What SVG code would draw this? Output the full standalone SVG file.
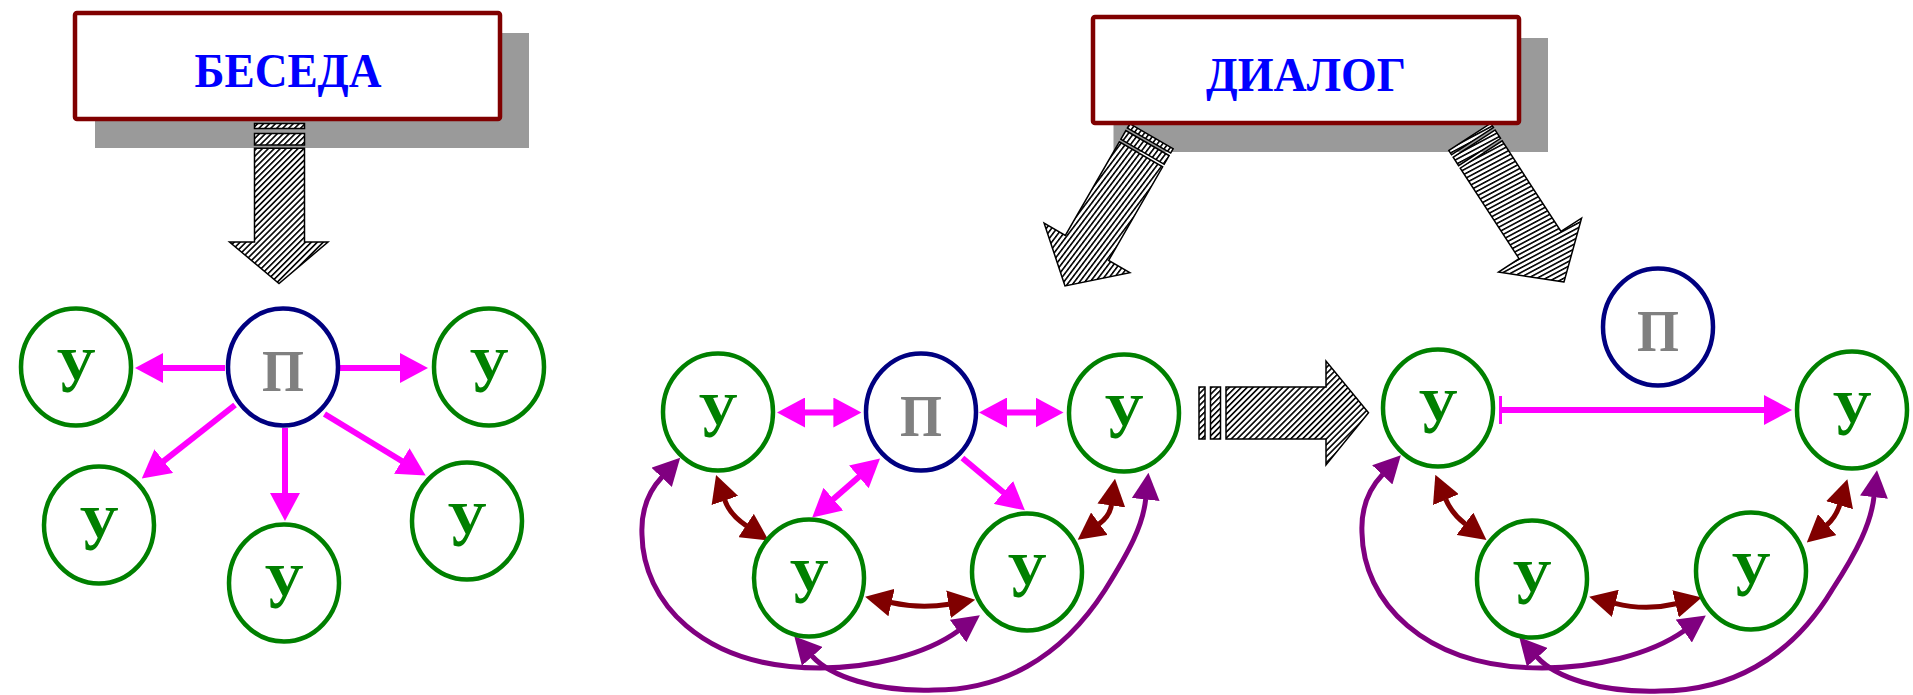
<svg xmlns="http://www.w3.org/2000/svg" width="1913" height="695" viewBox="0 0 1913 695">
<style>
.shadow{fill:#9a9a9a}
.box{fill:#fff;stroke:#800000;stroke-width:4.5}
.title{font-family:"Liberation Serif","Times New Roman",serif;font-weight:bold;font-size:48px;fill:#0000ff;text-anchor:middle}
.ha{stroke:#000;stroke-width:1.5;stroke-linejoin:miter}
.u{fill:none;stroke:#008000;stroke-width:4.5}
.p{fill:none;stroke:#000080;stroke-width:4.5}
.lu{font-family:"Liberation Serif","Times New Roman",serif;font-weight:bold;font-size:64px;fill:#008000;text-anchor:middle}
.lp{font-family:"Liberation Serif","Times New Roman",serif;font-weight:bold;font-size:60px;fill:#808080;text-anchor:middle}
.cm{fill:none;stroke:#ff00ff;stroke-width:6}
.cr{fill:none;stroke:#800000;stroke-width:5}
.cv{fill:none;stroke:#800080;stroke-width:5}
</style>
<defs>
<pattern id="h45" width="8" height="4.2" patternUnits="userSpaceOnUse" patternTransform="rotate(-45)"><rect width="8" height="4.2" fill="#fff"/><rect width="8" height="1.6" fill="#000"/></pattern>
<pattern id="hL" width="8" height="4.2" patternUnits="userSpaceOnUse" patternTransform="rotate(-83)"><rect width="8" height="4.2" fill="#fff"/><rect width="8" height="1.6" fill="#000"/></pattern>
<pattern id="hR" width="8" height="4.2" patternUnits="userSpaceOnUse" patternTransform="rotate(5)"><rect width="8" height="4.2" fill="#fff"/><rect width="8" height="1.6" fill="#000"/></pattern>
<marker id="am" viewBox="0 0 28 30" refX="1" refY="15" markerWidth="28" markerHeight="30" markerUnits="userSpaceOnUse" orient="auto-start-reverse"><path d="M0,0 L28,15 L0,30 z" fill="#ff00ff"/></marker>
<marker id="tick" viewBox="0 0 3 28" refX="0" refY="14" markerWidth="3" markerHeight="28" markerUnits="userSpaceOnUse" orient="auto"><rect width="3" height="28" fill="#ff00ff"/></marker>
<marker id="ar" viewBox="0 0 27 28" refX="0.5" refY="14" markerWidth="27" markerHeight="28" markerUnits="userSpaceOnUse" orient="auto-start-reverse"><path d="M0,0 L27,14 L0,28 z" fill="#800000"/></marker>
<marker id="av" viewBox="0 0 27 28" refX="0.5" refY="14" markerWidth="27" markerHeight="28" markerUnits="userSpaceOnUse" orient="auto-start-reverse"><path d="M0,0 L27,14 L0,28 z" fill="#800080"/></marker>
<g id="diagArrow">
<polygon class="ha" points="0,0 -49.5,-44 -25,-44 -25,-152 25,-152 25,-44 49.5,-44"/>
<rect class="ha" x="-25" y="-165" width="50" height="10"/>
<rect class="ha" x="-25" y="-173" width="50" height="5"/>
</g>
</defs>

<g id="shadows">
<rect class="shadow" x="95" y="33" width="434" height="115"/>
<rect class="shadow" x="1113.5" y="38" width="434.5" height="114"/>
</g>

<g id="big-arrows">
<g id="arrow-beseda" fill="url(#h45)">
<rect class="ha" x="254.5" y="123.5" width="50" height="5"/>
<rect class="ha" x="254.5" y="133.5" width="50" height="11.5"/>
<polygon class="ha" points="254.5,148.3 304.5,148.3 304.5,242 328,242 279,283.5 229.5,242 254.5,242"/>
</g>
<g id="arrow-dialog-left" fill="url(#hL)" transform="translate(1065,286) rotate(30)">
<use href="#diagArrow"/>
</g>
<g id="arrow-dialog-right" fill="url(#hR)" transform="translate(1564,282) rotate(-33)">
<use href="#diagArrow"/>
</g>
<g id="arrow-transition" fill="url(#h45)">
<rect class="ha" x="1199" y="387" width="6" height="52"/>
<rect class="ha" x="1210.5" y="387" width="10" height="52"/>
<polygon class="ha" points="1226,387 1326,387 1326,361 1368.5,412.7 1326,465 1326,439 1226,439"/>
</g>
</g>

<g id="title-beseda">
<rect class="box" x="75" y="13" width="425" height="106" rx="2"/>
<text class="title" x="288" y="87" textLength="187" lengthAdjust="spacingAndGlyphs">БЕСЕДА</text>
</g>
<g id="title-dialog">
<rect class="box" x="1093" y="17" width="426" height="106" rx="2"/>
<text class="title" x="1306" y="90.5" textLength="200" lengthAdjust="spacingAndGlyphs">ДИАЛОГ</text>
</g>

<g id="connectors">
<path class="cm" d="M225,368 L162,368" marker-end="url(#am)"/>
<path class="cm" d="M340,368 L401,368" marker-end="url(#am)"/>
<path class="cm" d="M235,405 L163,461.7" marker-end="url(#am)"/>
<path class="cm" d="M285,428 L285,494" marker-end="url(#am)"/>
<path class="cm" d="M324.5,414 L402.6,461.5" marker-end="url(#am)"/>
<path class="cm" d="M804,412.5 L834.4,412.5" marker-start="url(#am)" marker-end="url(#am)"/>
<path class="cm" d="M1006,412.5 L1036.5,412.5" marker-start="url(#am)" marker-end="url(#am)"/>
<path class="cm" d="M859.6,476.3 L832.6,499.7" marker-start="url(#am)" marker-end="url(#am)"/>
<path class="cm" d="M962.4,458 L1004.2,493" marker-end="url(#am)"/>
<path class="cr" d="M724.7,500 Q729.8,514.8 746.5,525.8" marker-start="url(#ar)" marker-end="url(#ar)"/>
<path class="cr" d="M891,602.5 Q920,609 949,604.2" marker-start="url(#ar)" marker-end="url(#ar)"/>
<path class="cr" d="M1099,524 Q1109.9,515.9 1111.4,505" marker-start="url(#ar)" marker-end="url(#ar)"/>
<path class="cv" d="M662,477 C645,495 641,515 642,535 C643,600 700,668 820,668 C870,668 925,655 958.4,630.8" marker-start="url(#av)" marker-end="url(#av)"/>
<path class="cv" d="M812,656 C830,676 875,692 934,690 C1000,690 1060,660 1105,590 C1130,550 1143,525 1145.7,499" marker-start="url(#av)" marker-end="url(#av)"/>
<path class="cm" d="M1499,410 L1765,410" marker-start="url(#tick)" marker-end="url(#am)"/>
<path class="cr" d="M1445.7,499.2 Q1452,514 1465.3,524" marker-start="url(#ar)" marker-end="url(#ar)"/>
<path class="cr" d="M1614.9,603.3 Q1645.5,611 1676,603.7" marker-start="url(#ar)" marker-end="url(#ar)"/>
<path class="cr" d="M1826.8,525 Q1836,517 1839.7,504.7" marker-start="url(#ar)" marker-end="url(#ar)"/>
<path class="cv" d="M1382.6,474.5 C1365,493 1361,513 1362,533 C1363,600 1422,668 1542,668 C1594,668 1650,655 1684.2,630.8" marker-start="url(#av)" marker-end="url(#av)"/>
<path class="cv" d="M1537,657 C1555,677 1600,693 1660,691 C1728,691 1790,660 1832,590 C1858,550 1871,523 1874,496.7" marker-start="url(#av)" marker-end="url(#av)"/>
</g>

<g id="nodes">
<g id="p1"><ellipse class="p" cx="283" cy="367" rx="55" ry="58.5"/><text class="lp" x="283" y="391" textLength="42" lengthAdjust="spacingAndGlyphs">П</text></g>
<g id="u1"><ellipse class="u" cx="76" cy="367" rx="55" ry="58.5"/><text class="lu" x="76" y="392" textLength="40" lengthAdjust="spacingAndGlyphs">У</text></g>
<g id="u2"><ellipse class="u" cx="489" cy="367" rx="55" ry="58.5"/><text class="lu" x="489" y="392" textLength="40" lengthAdjust="spacingAndGlyphs">У</text></g>
<g id="u3"><ellipse class="u" cx="99" cy="525" rx="55" ry="58.5"/><text class="lu" x="99" y="550" textLength="40" lengthAdjust="spacingAndGlyphs">У</text></g>
<g id="u4"><ellipse class="u" cx="284" cy="583" rx="55" ry="58.5"/><text class="lu" x="284" y="608" textLength="40" lengthAdjust="spacingAndGlyphs">У</text></g>
<g id="u5"><ellipse class="u" cx="467" cy="521" rx="55" ry="58.5"/><text class="lu" x="467" y="546" textLength="40" lengthAdjust="spacingAndGlyphs">У</text></g>

<g id="p2"><ellipse class="p" cx="921" cy="412" rx="55" ry="58.5"/><text class="lp" x="921" y="436" textLength="42" lengthAdjust="spacingAndGlyphs">П</text></g>
<g id="u6"><ellipse class="u" cx="718" cy="412" rx="55" ry="58.5"/><text class="lu" x="718" y="437" textLength="40" lengthAdjust="spacingAndGlyphs">У</text></g>
<g id="u7"><ellipse class="u" cx="1124" cy="413" rx="55" ry="58.5"/><text class="lu" x="1124" y="438" textLength="40" lengthAdjust="spacingAndGlyphs">У</text></g>
<g id="u8"><ellipse class="u" cx="809" cy="578" rx="55" ry="58.5"/><text class="lu" x="809" y="603" textLength="40" lengthAdjust="spacingAndGlyphs">У</text></g>
<g id="u9"><ellipse class="u" cx="1027" cy="572" rx="55" ry="58.5"/><text class="lu" x="1027" y="597" textLength="40" lengthAdjust="spacingAndGlyphs">У</text></g>

<g id="p3"><ellipse class="p" cx="1658" cy="327" rx="55" ry="58.5"/><text class="lp" x="1658" y="351" textLength="42" lengthAdjust="spacingAndGlyphs">П</text></g>
<g id="u10"><ellipse class="u" cx="1438" cy="408" rx="55" ry="58.5"/><text class="lu" x="1438" y="433" textLength="40" lengthAdjust="spacingAndGlyphs">У</text></g>
<g id="u11"><ellipse class="u" cx="1852" cy="410" rx="55" ry="58.5"/><text class="lu" x="1852" y="435" textLength="40" lengthAdjust="spacingAndGlyphs">У</text></g>
<g id="u12"><ellipse class="u" cx="1532" cy="579" rx="55" ry="58.5"/><text class="lu" x="1532" y="604" textLength="40" lengthAdjust="spacingAndGlyphs">У</text></g>
<g id="u13"><ellipse class="u" cx="1751" cy="571" rx="55" ry="58.5"/><text class="lu" x="1751" y="596" textLength="40" lengthAdjust="spacingAndGlyphs">У</text></g>
</g>
</svg>
